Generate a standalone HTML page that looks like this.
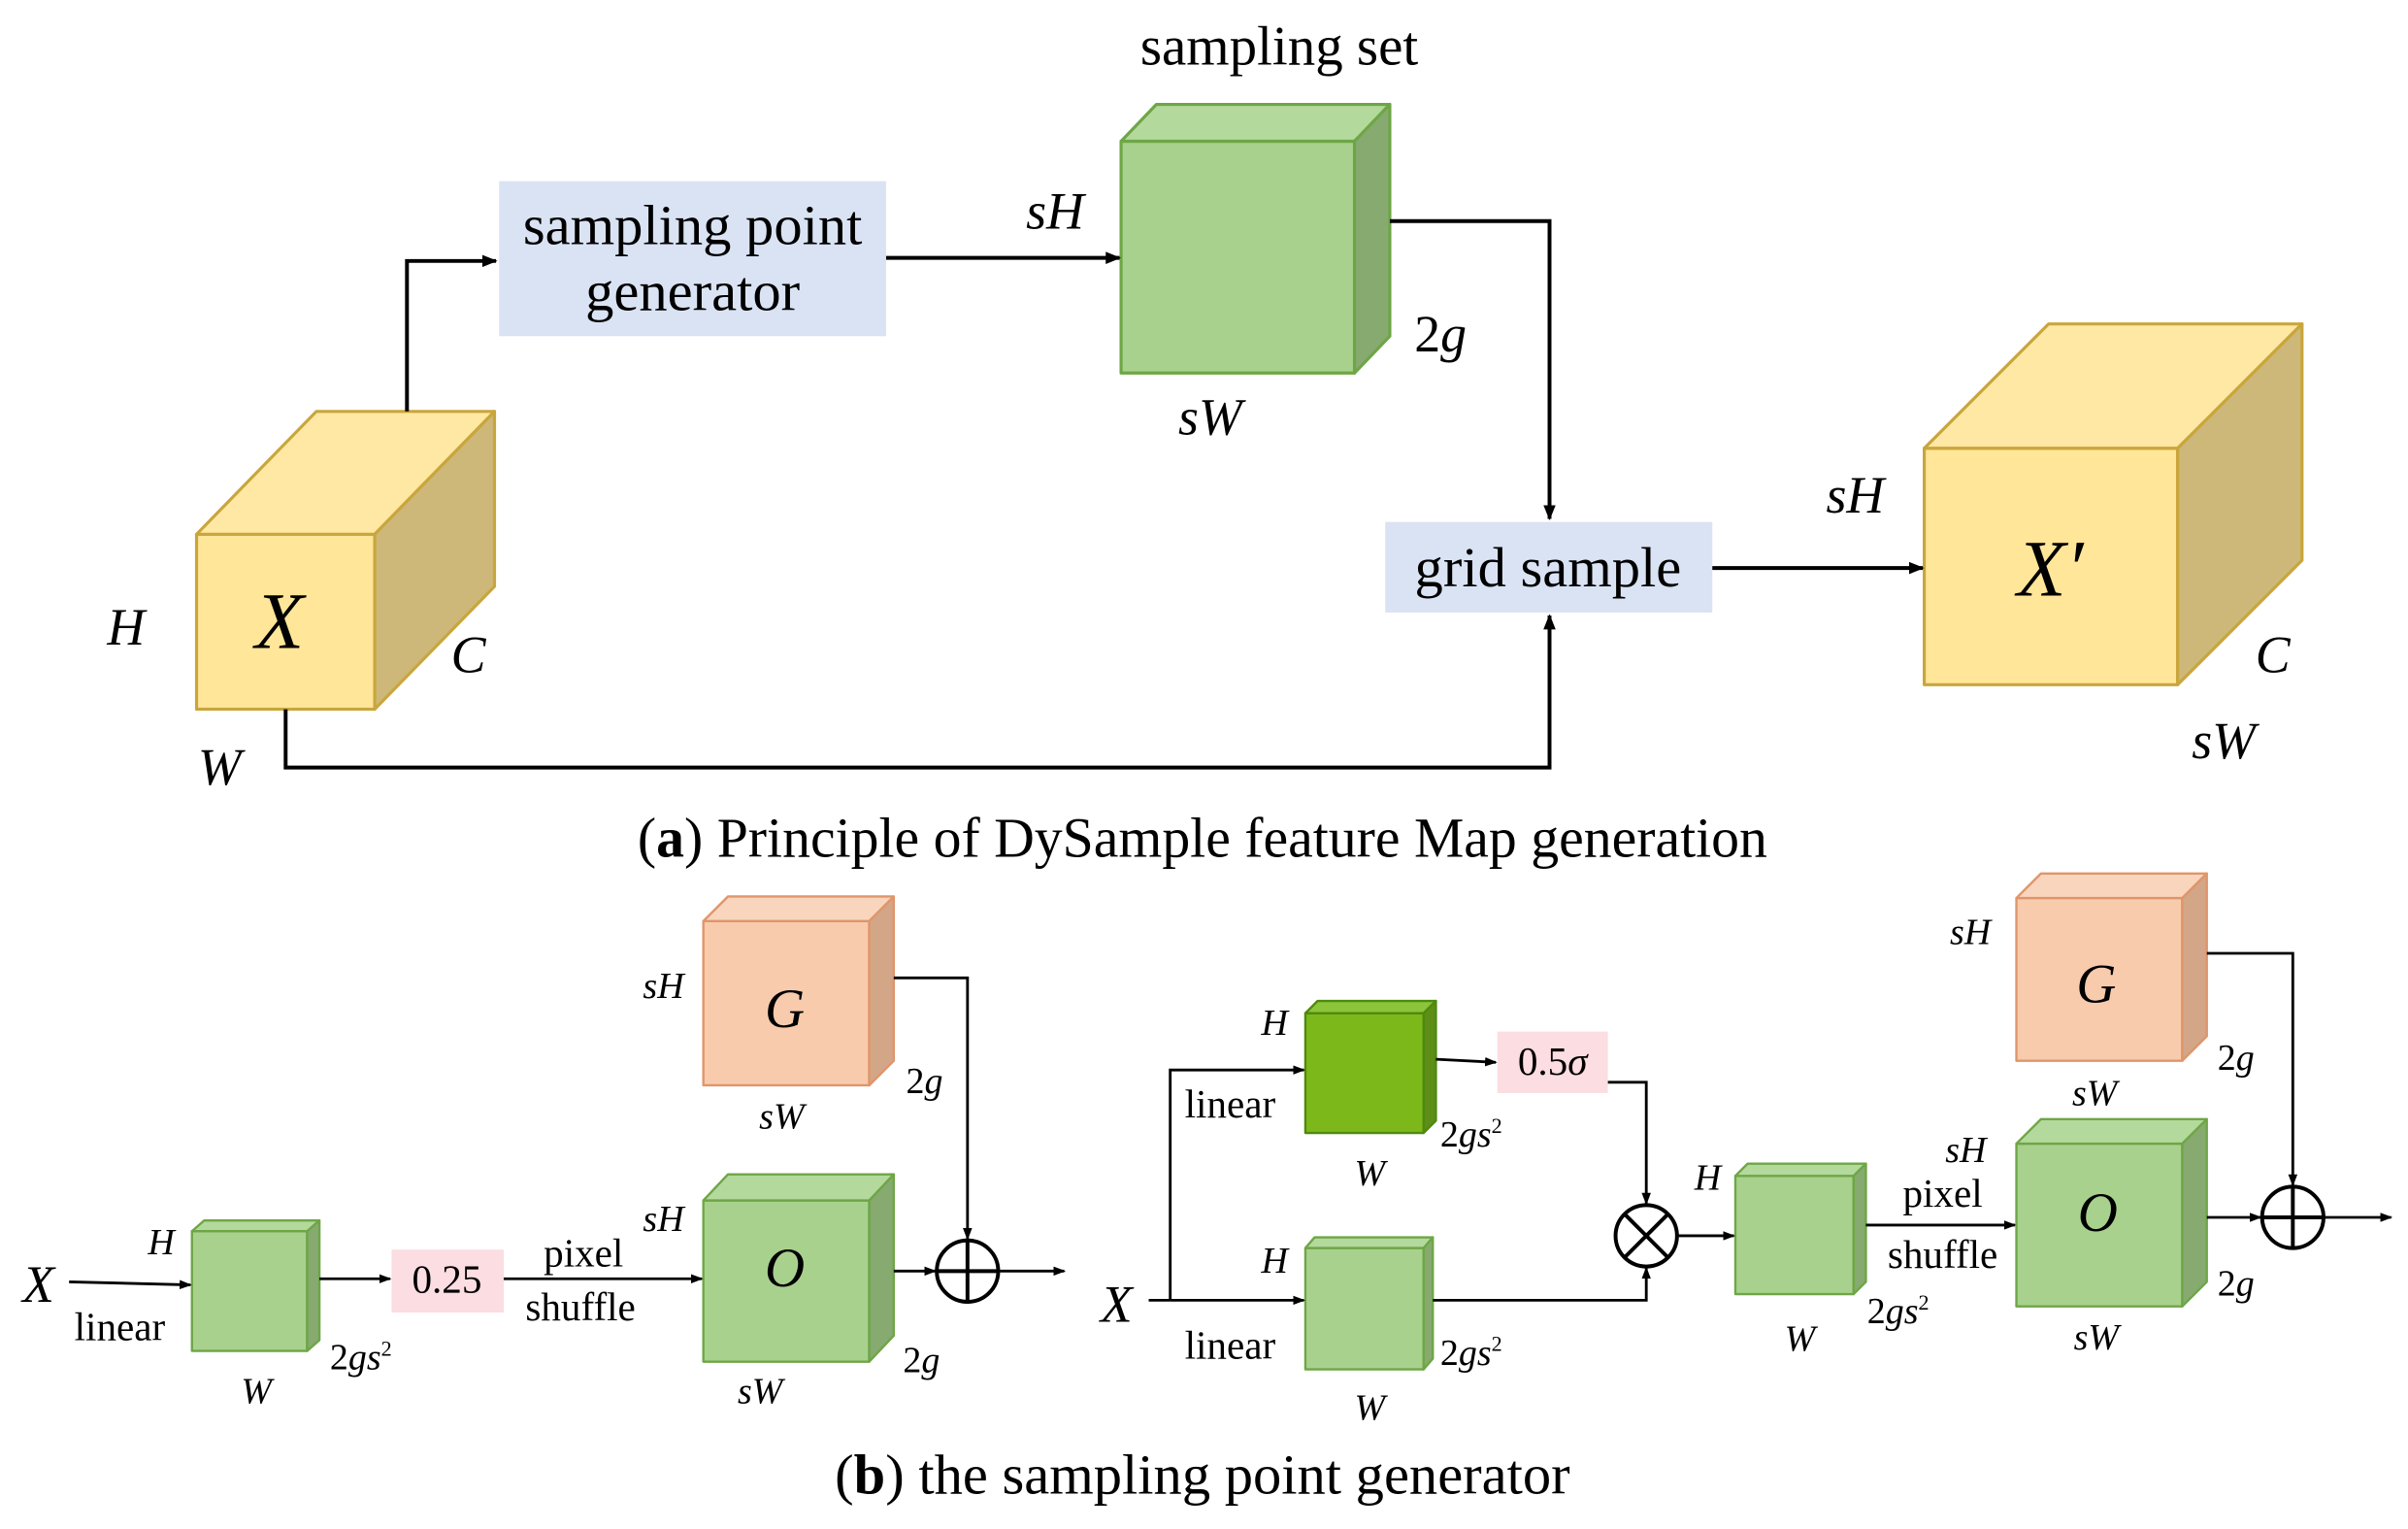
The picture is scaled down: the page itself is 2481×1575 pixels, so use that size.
<!DOCTYPE html>
<html><head><meta charset="utf-8"><style>
html,body{margin:0;padding:0;background:#fff;}
svg{display:block}
text{font-family:"Liberation Serif",serif;fill:#000}
.i{font-style:italic}
</style></head><body>
<svg width="2481" height="1575" viewBox="0 0 1568 996" preserveAspectRatio="none" xmlns="http://www.w3.org/2000/svg">
<defs>
<marker id="a" markerWidth="10" markerHeight="8" refX="9" refY="4" orient="auto" markerUnits="userSpaceOnUse"><path d="M0,0 L10,4 L0,8 z" fill="#000"/></marker>
<marker id="b" markerWidth="8" markerHeight="6" refX="7" refY="3" orient="auto" markerUnits="userSpaceOnUse"><path d="M0,0 L8,3 L0,6 z" fill="#000"/></marker>
</defs>
<g stroke-linejoin="round">
<rect x="128" y="348" width="116" height="114" fill="#FFE699" stroke="#C9A63C" stroke-width="2"/>
<polygon points="128,348 206,268 322,268 244,348" fill="#FFE8A3" stroke="#C9A63C" stroke-width="2"/>
<polygon points="244,348 322,268 322,382 244,462" fill="#CDB879" stroke="#C9A63C" stroke-width="2"/>
<rect x="730" y="92" width="152" height="151" fill="#A9D18E" stroke="#6EA646" stroke-width="2"/>
<polygon points="730,92 753,68 905,68 882,92" fill="#B4D99C" stroke="#6EA646" stroke-width="2"/>
<polygon points="882,92 905,68 905,219 882,243" fill="#87AA70" stroke="#6EA646" stroke-width="2"/>
<rect x="1253" y="292" width="165" height="154" fill="#FFE699" stroke="#C9A63C" stroke-width="2"/>
<polygon points="1253,292 1334,211 1499,211 1418,292" fill="#FFE8A3" stroke="#C9A63C" stroke-width="2"/>
<polygon points="1418,292 1499,211 1499,365 1418,446" fill="#CDB879" stroke="#C9A63C" stroke-width="2"/>
</g>
<rect x="325" y="118" width="252" height="101" fill="#DAE3F3"/>
<rect x="902" y="340" width="213" height="59" fill="#DAE3F3"/>
<g fill="none" stroke="#000" stroke-width="2.5">
<polyline points="265,268 265,170 323,170" marker-end="url(#a)"/>
<line x1="577" y1="168" x2="729" y2="168" marker-end="url(#a)"/>
<polyline points="905,144 1009,144 1009,338" marker-end="url(#a)"/>
<line x1="1115" y1="370" x2="1252" y2="370" marker-end="url(#a)"/>
<polyline points="186,462 186,500 1009,500 1009,401" marker-end="url(#a)"/>
</g>
<text x="833" y="42" font-size="36" text-anchor="middle">sampling set</text>
<text x="451" y="159" font-size="37" text-anchor="middle">sampling point</text>
<text x="451" y="202" font-size="37" text-anchor="middle">generator</text>
<text x="1008" y="382" font-size="37" text-anchor="middle">grid sample</text>
<text x="182" y="422" font-size="52" class="i" text-anchor="middle">X</text>
<text x="1335" y="388" font-size="52" class="i" text-anchor="middle">X′</text>
<text x="82" y="420" font-size="34" class="i" text-anchor="middle">H</text>
<text x="305" y="438" font-size="34" class="i" text-anchor="middle">C</text>
<text x="143" y="511" font-size="34" class="i" text-anchor="middle">W</text>
<text x="687" y="149" font-size="34" class="i" text-anchor="middle">sH</text>
<text x="938" y="229" font-size="34" text-anchor="middle">2<tspan class="i">g</tspan></text>
<text x="788" y="283" font-size="34" class="i" text-anchor="middle">sW</text>
<text x="1208" y="334" font-size="34" class="i" text-anchor="middle">sH</text>
<text x="1480" y="438" font-size="34" class="i" text-anchor="middle">C</text>
<text x="1448" y="494" font-size="34" class="i" text-anchor="middle">sW</text>
<text x="783" y="558" font-size="36.5" text-anchor="middle">(<tspan font-weight="bold">a</tspan>) Principle of DySample feature Map generation</text>

<g stroke-linejoin="round" stroke-width="1.5">
<g stroke="#6EA646">
<rect x="125" y="802" width="75" height="78" fill="#A9D18E"/>
<polygon points="125,802 133,795 208,795 200,802" fill="#B4D99C"/>
<polygon points="200,802 208,795 208,873 200,880" fill="#87AA70"/>
<rect x="458" y="782" width="108" height="105" fill="#A9D18E"/>
<polygon points="458,782 474,765 582,765 566,782" fill="#B4D99C"/>
<polygon points="566,782 582,765 582,870 566,887" fill="#87AA70"/>
<rect x="850" y="813" width="77" height="79" fill="#A9D18E"/>
<polygon points="850,813 856,806 933,806 927,813" fill="#B4D99C"/>
<polygon points="927,813 933,806 933,885 927,892" fill="#87AA70"/>
<rect x="1130" y="766" width="77" height="77" fill="#A9D18E"/>
<polygon points="1130,766 1138,758 1215,758 1207,766" fill="#B4D99C"/>
<polygon points="1207,766 1215,758 1215,835 1207,843" fill="#87AA70"/>
<rect x="1313" y="745" width="108" height="106" fill="#A9D18E"/>
<polygon points="1313,745 1329,729 1437,729 1421,745" fill="#B4D99C"/>
<polygon points="1421,745 1437,729 1437,835 1421,851" fill="#87AA70"/>
</g>
<g stroke="#4E8A0E">
<rect x="850" y="660" width="77" height="78" fill="#7CB81A"/>
<polygon points="850,660 858,652 935,652 927,660" fill="#8CC43A"/>
<polygon points="927,660 935,652 935,730 927,738" fill="#5E8E18"/>
</g>
<g stroke="#E0956A">
<rect x="458" y="600" width="108" height="107" fill="#F8CBAD"/>
<polygon points="458,600 474,584 582,584 566,600" fill="#F9D5BD"/>
<polygon points="566,600 582,584 582,691 566,707" fill="#D3A688"/>
<rect x="1313" y="585" width="108" height="106" fill="#F8CBAD"/>
<polygon points="1313,585 1329,569 1437,569 1421,585" fill="#F9D5BD"/>
<polygon points="1421,585 1437,569 1437,675 1421,691" fill="#D3A688"/>
</g>
</g>
<rect x="255" y="814" width="73" height="41" fill="#FBDDE2"/>
<rect x="975" y="672" width="72" height="40" fill="#FBDDE2"/>
<g fill="none" stroke="#000" stroke-width="1.8">
<line x1="45" y1="835" x2="124" y2="837" marker-end="url(#b)"/>
<line x1="208" y1="833" x2="254" y2="833" marker-end="url(#b)"/>
<line x1="328" y1="833" x2="457" y2="833" marker-end="url(#b)"/>
<polyline points="582,637 630,637 630,807" marker-end="url(#b)"/>
<line x1="582" y1="828" x2="609" y2="828" marker-end="url(#b)"/>
<line x1="651" y1="828" x2="693" y2="828" marker-end="url(#b)"/>
<circle cx="630" cy="828" r="20" stroke-width="2.5"/>
<line x1="610" y1="828" x2="650" y2="828" stroke-width="2.5"/>
<line x1="630" y1="808" x2="630" y2="848" stroke-width="2.5"/>
<polyline points="748,847 762,847"/>
<polyline points="762,847 762,697 849,697" marker-end="url(#b)"/>
<line x1="762" y1="847" x2="849" y2="847" marker-end="url(#b)"/>
<line x1="935" y1="690" x2="974" y2="692" marker-end="url(#b)"/>
<polyline points="1047,705 1072,705 1072,784" marker-end="url(#b)"/>
<polyline points="933,847 1072,847 1072,826" marker-end="url(#b)"/>
<circle cx="1072" cy="805" r="20" stroke-width="2.5"/>
<line x1="1058" y1="791" x2="1086" y2="819" stroke-width="2.5"/>
<line x1="1086" y1="791" x2="1058" y2="819" stroke-width="2.5"/>
<line x1="1092" y1="805" x2="1129" y2="805" marker-end="url(#b)"/>
<line x1="1215" y1="798" x2="1312" y2="798" marker-end="url(#b)"/>
<polyline points="1437,621 1493,621 1493,772" marker-end="url(#b)"/>
<line x1="1437" y1="793" x2="1472" y2="793" marker-end="url(#b)"/>
<line x1="1513" y1="793" x2="1557" y2="793" marker-end="url(#b)"/>
<circle cx="1493" cy="793" r="20" stroke-width="2.5"/>
<line x1="1473" y1="793" x2="1513" y2="793" stroke-width="2.5"/>
<line x1="1493" y1="773" x2="1493" y2="813" stroke-width="2.5"/>
</g>
<g font-size="26" text-anchor="middle">
<text x="25" y="848" font-size="34" class="i">X</text>
<text x="78" y="873">linear</text>
<text x="105" y="817" class="i" font-size="24">H</text>
<text x="167" y="914" class="i" font-size="24">W</text>
<text x="235" y="892" font-size="24">2<tspan class="i">gs</tspan><tspan font-size="14" dy="-9">2</tspan></text>
<text x="291" y="842">0.25</text>
<text x="380" y="825">pixel</text>
<text x="378" y="860">shuffle</text>
<text x="432" y="802" class="i" font-size="24">sH</text>
<text x="511" y="838" class="i" font-size="36">O</text>
<text x="495" y="914" class="i" font-size="24">sW</text>
<text x="600" y="894" font-size="24">2<tspan class="i">g</tspan></text>
<text x="511" y="669" class="i" font-size="36">G</text>
<text x="432" y="650" class="i" font-size="24">sH</text>
<text x="509" y="735" class="i" font-size="24">sW</text>
<text x="602" y="712" font-size="24">2<tspan class="i">g</tspan></text>
<text x="727" y="861" font-size="34" class="i">X</text>
<text x="801" y="728">linear</text>
<text x="801" y="885">linear</text>
<text x="830" y="674" class="i" font-size="24">H</text>
<text x="892" y="772" class="i" font-size="24">W</text>
<text x="958" y="747" font-size="24">2<tspan class="i">gs</tspan><tspan font-size="14" dy="-9">2</tspan></text>
<text x="1011" y="700">0.5<tspan class="i">σ</tspan></text>
<text x="830" y="829" class="i" font-size="24">H</text>
<text x="892" y="925" class="i" font-size="24">W</text>
<text x="958" y="889" font-size="24">2<tspan class="i">gs</tspan><tspan font-size="14" dy="-9">2</tspan></text>
<text x="1112" y="775" class="i" font-size="24">H</text>
<text x="1172" y="880" class="i" font-size="24">W</text>
<text x="1236" y="862" font-size="24">2<tspan class="i">gs</tspan><tspan font-size="14" dy="-9">2</tspan></text>
<text x="1280" y="757" class="i" font-size="24">sH</text>
<text x="1265" y="786">pixel</text>
<text x="1265" y="826">shuffle</text>
<text x="1366" y="802" class="i" font-size="36">O</text>
<text x="1365" y="879" class="i" font-size="24">sW</text>
<text x="1456" y="844" font-size="24">2<tspan class="i">g</tspan></text>
<text x="1365" y="653" class="i" font-size="36">G</text>
<text x="1283" y="615" class="i" font-size="24">sH</text>
<text x="1364" y="720" class="i" font-size="24">sW</text>
<text x="1456" y="697" font-size="24">2<tspan class="i">g</tspan></text>
</g>
<text x="783" y="973" font-size="37" text-anchor="middle">(<tspan font-weight="bold">b</tspan>) the sampling point generator</text>
</svg>
</body></html>
